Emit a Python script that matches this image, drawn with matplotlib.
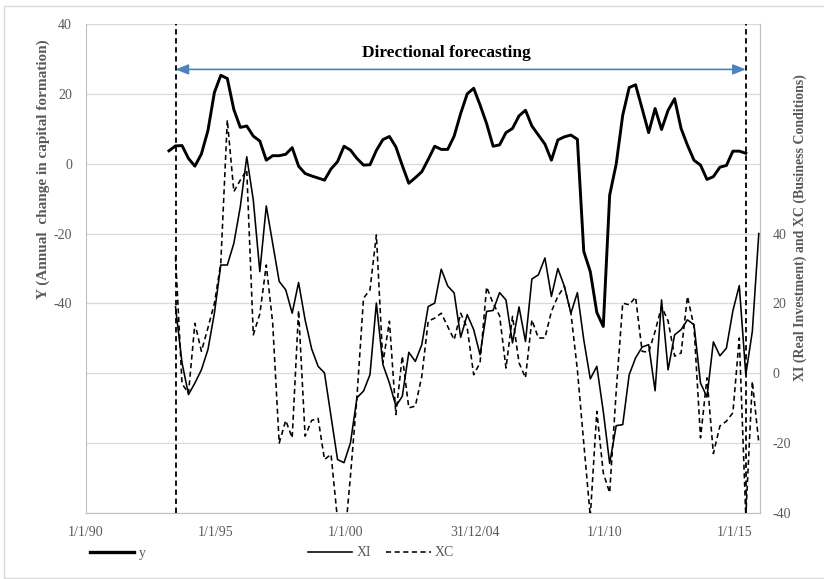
import matplotlib
matplotlib.use('Agg')
import matplotlib.pyplot as plt
import matplotlib.dates as mdates
from matplotlib.lines import Line2D
from matplotlib.patches import Rectangle
from datetime import datetime

plt.rcParams['font.family'] = ['Liberation Serif', 'DejaVu Serif']
plt.rcParams['axes.unicode_minus'] = False

# ---------------- data (quarterly) ----------------
n_quarters = 92
dates = [datetime(1993 + (2 + 3 * k) // 12, (2 + 3 * k) % 12 + 1, 15) for k in range(n_quarters)]

y_vals = [3.7, 5.1, 5.2, 1.5, -0.7, 2.8, 9.5, 20.4, 25.3, 24.4, 15.5, 10.4, 10.8, 7.9, 6.5,
          1.0, 2.3, 2.3, 2.7, 4.6, -0.7, -2.8, -3.5, -4.1, -4.7, -1.5, 0.6, 5.0, 3.9, 1.5,
          -0.4, -0.3, 3.8, 6.9, 7.8, 4.8, -0.5, -5.6, -4.0, -2.3, 1.2, 5.0, 4.1, 4.1, 7.9,
          14.4, 20.0, 21.6, 16.8, 11.5, 5.0, 5.4, 8.9, 10.1, 13.7, 15.3, 10.8, 8.2, 5.6, 1.0,
          6.8, 7.7, 8.2, 7.0, -25.1, -30.9, -42.6, -46.6, -9.0, -0.1, 13.9, 21.8, 22.6, 15.8, 8.9,
          15.8, 9.8, 15.3, 18.6, 10.1, 5.3, 1.0, -0.4, -4.5, -3.7, -1.0, -0.5, 3.6, 3.6, 3.0]

xi_vals = [19, 3.0, -6.1, -2.8, 1.0, 6.8, 17.2, 31, 31, 37.2, 47.7, 62, 49.6, 29.1, 47.9,
           37.2, 26.3, 23.9, 17.2, 26, 15.3, 7, 2.0, 0.1, -12.3, -24.7, -25.6, -19.9, -7, -5.1,
           -0.4, 20.1, 2.5, -2.8, -9.4, -6.6, 6.0, 3.4, 8.2, 19.1, 20.1, 29.8, 25, 23, 10.3,
           16.8, 12.5, 5.3, 17.7, 18, 23.1, 21, 8.7, 19, 9.1, 27, 28.2, 33, 22, 30,
           24.9, 17.2, 23.1, 9.6, -1.6, 2, -10.9, -25.8, -15, -14.7, -0.4, 4.4, 7.5, 8.2, -5,
           21, 1, 11, 12.5, 15.3, 13.9, -2.8, -6.8, 9, 5, 7.2, 17.9, 25.1, -0.4, 12, 40]

xc_vals = [33.4, -3, -5.7, 14.3, 6.3, 13, 20, 31.5, 72.5, 52, 55.3, 58.2, 11, 17, 31,
           14.4, -20, -13.5, -18.5, 18, -18, -13.5, -12.9, -24.7, -23.2, -42, -50, -29.4, -6.6, 21.5,
           23.9, 39.6, 3, 14.9, -11.8, 4.9, -9.9, -9.4, -0.9, 14.9, 15.8, 17.2, 13.4, 9.6, 17.2,
           13, -0.4, 3, 24.7, 20, 16.5, 1.5, 16.3, 3, -1.3, 15.3, 10.1, 10.1, 17.7, 22,
           24.9, 17.2, 1, -20, -41, -10.9, -28.5, -34.2, -5.1, 20.1, 19.6, 21.8, 6.3, 6, 12,
           19.1, 15, 4.9, 5.8, 22, 13.4, -18.5, -1.3, -23, -15.1, -13.7, -11.3, 10.1, -41, -2.3, -19.9]

y_dates = dates[:len(y_vals)]
x_dates = dates[1:1 + len(xi_vals)]
window_start = dates[1]
window_end = dates[89]

tick_dates = [datetime(1990, 1, 1), datetime(1995, 1, 1), datetime(2000, 1, 1),
              datetime(2004, 12, 31), datetime(2010, 1, 1), datetime(2015, 1, 1)]
tick_labels = ['1/1/90', '1/1/95', '1/1/00', '31/12/04', '1/1/10', '1/1/15']
left_ticks = [-100, -80, -60, -40, -20, 0, 20, 40]
left_labels = ['', '', '', '-40', '-20', '0', '20', '40']
right_ticks = [-40, -20, 0, 20, 40]

# ---------------- figure ----------------
W, H = 824, 579
fig = plt.figure(figsize=(W / 100, H / 100), dpi=100)
fig.add_artist(Rectangle((4 / W, 1 - 578 / H), 2, (578 - 6) / H, transform=fig.transFigure,
                         fill=False, edgecolor='#d9d9d9', lw=1))

ax = fig.add_axes([86 / W, 1 - 513 / H, (760 - 86) / W, (513 - 24) / H])
ax2 = ax.twinx()

gray = '#595959'
dash = (3.2, 2.2)

ax.plot(y_dates, y_vals, color='black', lw=2.1, solid_joinstyle='round', zorder=3)
ax2.plot(x_dates, xi_vals, color='black', lw=1.15, zorder=3)
ax2.plot(x_dates, xc_vals, color='black', lw=1.15, dashes=dash, zorder=3)

ax.set_xlim(datetime(1990, 1, 1), datetime(2016, 1, 1))
ax.set_xticks(tick_dates)
ax.set_xticklabels(tick_labels)
ax.set_ylim(-100, 40)
ax.set_yticks(left_ticks)
ax.set_yticklabels(left_labels)
ax2.set_ylim(-40, 100)
ax2.set_yticks(right_ticks)

ax.grid(axis='y', color='#d9d9d9', lw=0.9)
ax.set_axisbelow(True)
ax.spines['top'].set_visible(False)
for s in ['left', 'bottom', 'right']:
    ax.spines[s].set_color('#bfbfbf')
for s in ['top', 'left', 'bottom']:
    ax2.spines[s].set_visible(False)
ax2.spines['right'].set_color('#bfbfbf')

ax.tick_params(axis='both', length=0, labelcolor=gray, labelsize=10)
ax.tick_params(axis='y', pad=10)
ax.tick_params(axis='x', pad=9)
ax2.tick_params(axis='y', length=0, labelcolor=gray, labelsize=10, pad=9)

# forecast window
for d in (window_start, window_end):
    ax2.axvline(d, color='black', lw=1.3, dashes=(3.0, 2.0), zorder=4)

ax.annotate('', xy=(mdates.date2num(window_end), 27), xytext=(mdates.date2num(window_start), 27),
            arrowprops=dict(arrowstyle='<|-|>,head_length=0.55,head_width=0.22', color='#4f81bd',
                            lw=1.2, shrinkA=0, shrinkB=0, mutation_scale=14), zorder=5)
ax.text(0.534, 0.9407, 'Directional forecasting', transform=ax.transAxes, ha='center', va='center',
        fontsize=12.5, fontweight='bold', color='black')

fig.text(43.5 / W, 1 - 169 / H, 'Y (Annual  change in capital formation)', rotation=90,
         ha='center', va='center', fontsize=11, fontweight='bold', color=gray)
fig.text(800 / W, 1 - 227.5 / H, 'XI (Real Investment) and XC (Business Conditions)', rotation=90,
         ha='center', va='center', fontsize=10, fontweight='bold', color=gray)

# legend
h_y = Line2D([], [], color='black', lw=2.4)
h_xi = Line2D([], [], color='black', lw=1.15)
h_xc = Line2D([], [], color='black', lw=1.15, dashes=dash)
common = dict(frameon=False, handlelength=3.2, handletextpad=0.3, fontsize=10, labelcolor=gray,
              borderpad=0, borderaxespad=0, loc='center left')
fig.legend([h_y], ['y'], bbox_to_anchor=(90 / W, 1 - 553 / H), **common)
fig.legend([h_xi, h_xc], ['XI', 'XC'], ncol=2, columnspacing=1.1,
           bbox_to_anchor=(308 / W, 1 - 553 / H), **common)

fig.savefig('out.png', dpi=100)
